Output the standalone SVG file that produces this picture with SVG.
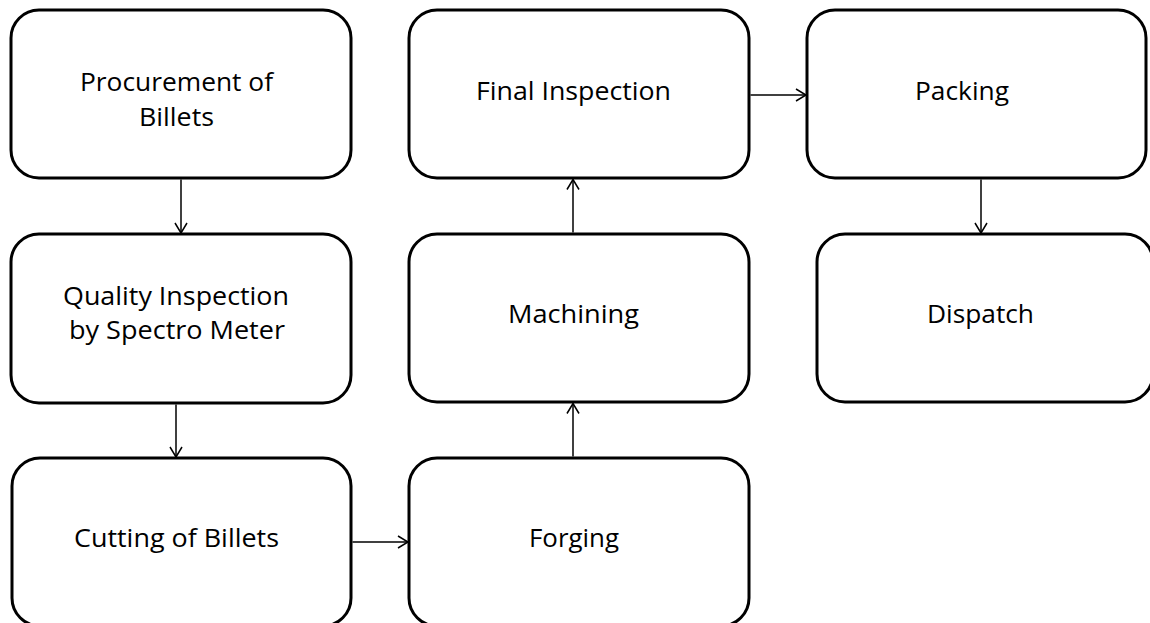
<svg xmlns="http://www.w3.org/2000/svg" width="1150" height="623" viewBox="0 0 1150 623">
  <style>
    .box { fill: #ffffff; stroke: #000000; stroke-width: 3; }
    .lbl { font-family: "Open Sans", "Liberation Sans", sans-serif; font-size: 25px; fill: #000000; text-anchor: middle; }
    .conn { stroke: #000000; stroke-width: 1.5; fill: none; marker-end: url(#arrow); }
  </style>
  <defs>
    <marker id="arrow" markerUnits="userSpaceOnUse" markerWidth="14" markerHeight="16" refX="11" refY="7" orient="auto" overflow="visible">
      <path d="M1,1 L11,7 L1,13" fill="none" stroke="#000000" stroke-width="1.5"/>
    </marker>
  </defs>
  <rect width="1150" height="623" fill="#ffffff"/>

  <g id="node-procurement">
    <rect class="box" x="11" y="10" width="340" height="168" rx="28" ry="28"/>
    <text class="lbl" x="176.5" y="91" textLength="193" lengthAdjust="spacingAndGlyphs">Procurement of</text>
    <text class="lbl" x="176.5" y="126" textLength="75" lengthAdjust="spacingAndGlyphs">Billets</text>
  </g>
  <g id="node-quality">
    <rect class="box" x="11" y="234" width="340" height="169" rx="28" ry="28"/>
    <text class="lbl" x="176" y="305" textLength="226" lengthAdjust="spacingAndGlyphs">Quality Inspection</text>
    <text class="lbl" x="177" y="339" textLength="216" lengthAdjust="spacingAndGlyphs">by Spectro Meter</text>
  </g>
  <g id="node-cutting">
    <rect class="box" x="12" y="458" width="339" height="168" rx="28" ry="28"/>
    <text class="lbl" x="176.5" y="547" textLength="205" lengthAdjust="spacingAndGlyphs">Cutting of Billets</text>
  </g>
  <g id="node-forging">
    <rect class="box" x="409" y="458" width="340" height="168" rx="28" ry="28"/>
    <text class="lbl" x="574" y="547" textLength="90" lengthAdjust="spacingAndGlyphs">Forging</text>
  </g>
  <g id="node-machining">
    <rect class="box" x="409" y="234" width="340" height="168" rx="28" ry="28"/>
    <text class="lbl" x="573.5" y="323" textLength="131" lengthAdjust="spacingAndGlyphs">Machining</text>
  </g>
  <g id="node-final">
    <rect class="box" x="409" y="10" width="340" height="168" rx="28" ry="28"/>
    <text class="lbl" x="573.5" y="100" textLength="195" lengthAdjust="spacingAndGlyphs">Final Inspection</text>
  </g>
  <g id="node-packing">
    <rect class="box" x="807" y="10" width="339" height="168" rx="28" ry="28"/>
    <text class="lbl" x="962" y="100" textLength="94" lengthAdjust="spacingAndGlyphs">Packing</text>
  </g>
  <g id="node-dispatch">
    <rect class="box" x="817" y="234" width="336" height="168" rx="28" ry="28"/>
    <text class="lbl" x="980.5" y="323" textLength="107" lengthAdjust="spacingAndGlyphs">Dispatch</text>
  </g>

  <g id="connectors">
    <line class="conn" x1="181" y1="179.5" x2="181" y2="233"/>
    <line class="conn" x1="176" y1="404.5" x2="176" y2="457"/>
    <line class="conn" x1="352.5" y1="542" x2="408" y2="542"/>
    <line class="conn" x1="573" y1="456.5" x2="573" y2="403.5"/>
    <line class="conn" x1="573" y1="232.5" x2="573" y2="179.5"/>
    <line class="conn" x1="750.5" y1="95" x2="806" y2="95"/>
    <line class="conn" x1="981" y1="179.5" x2="981" y2="233"/>
  </g>
</svg>
